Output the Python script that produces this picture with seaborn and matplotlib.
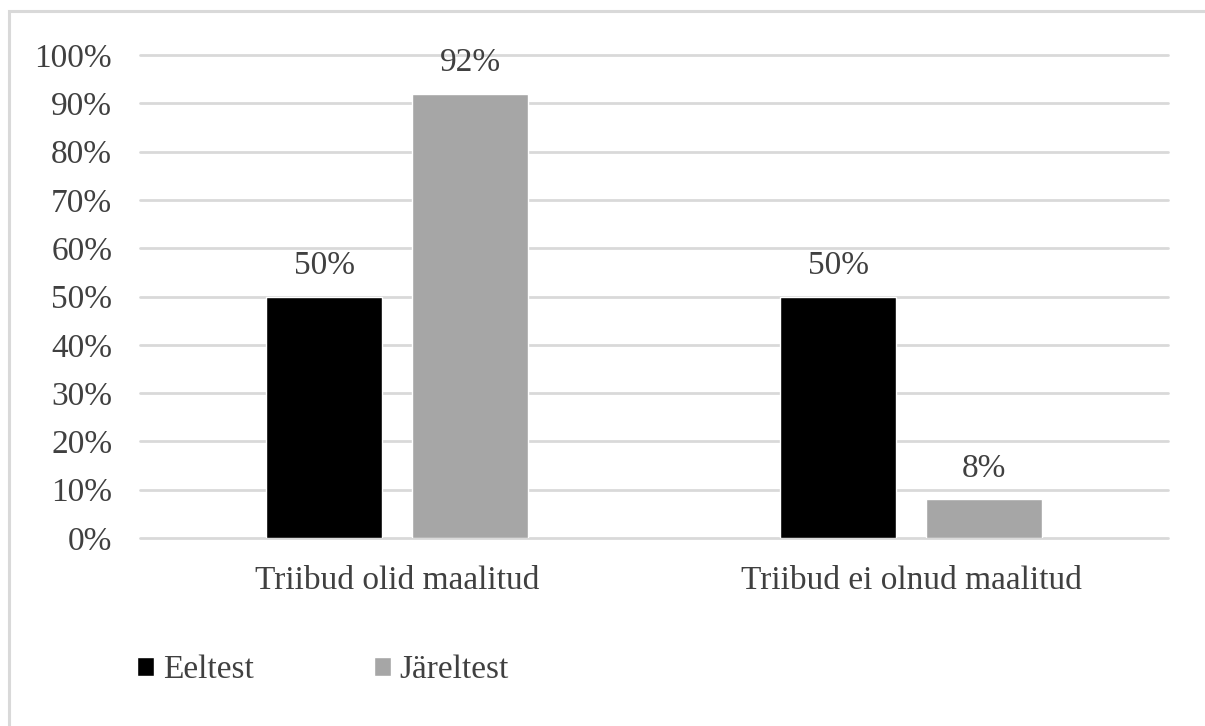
import matplotlib
matplotlib.use("Agg")
import matplotlib.pyplot as plt
import seaborn as sns
import pandas as pd
from matplotlib.patches import Rectangle

# Data
categories = ["Triibud olid maalitud", "Triibud ei olnud maalitud"]
series = ["Eeltest", "Järeltest"]
eeltest = [50, 50]
jareltest = [92, 8]
y_ticks = [0, 10, 20, 30, 40, 50, 60, 70, 80, 90, 100]

df = pd.DataFrame({
    "kategooria": categories * 2,
    "test": [series[0]] * len(categories) + [series[1]] * len(categories),
    "osakaal": eeltest + jareltest,
})

sns.set_theme(style="white")
plt.rcParams["font.family"] = ["Liberation Serif", "DejaVu Serif"]

TEXT = "#404040"
GRID = "#d9d9d9"
FS = 24

fig = plt.figure(figsize=(12.05, 7.26), dpi=100)
ax = fig.add_axes([140 / 1205, 1 - 538 / 726, (1168 - 140) / 1205, (538 - 55) / 726])

sns.barplot(
    data=df, x="kategooria", y="osakaal", hue="test",
    palette=["#000000", "#a6a6a6"], saturation=1,
    width=0.568, gap=0.2, errorbar=None, ax=ax,
)

ax.set_ylim(0, 100)
ax.set_yticks(y_ticks)
ax.set_yticklabels([f"{v}%" for v in y_ticks])
ax.set_xlabel("")
ax.set_ylabel("")
ax.tick_params(axis="both", length=0, labelsize=FS, colors=TEXT)
ax.tick_params(axis="y", pad=20)
ax.tick_params(axis="x", pad=20)
ax.yaxis.grid(True, color=GRID, linewidth=2)
ax.set_axisbelow(True)
for line in ax.get_ygridlines():
    line.set_clip_on(False)
for s in ax.spines.values():
    s.set_visible(False)

# Value labels above bars
for container in ax.containers:
    ax.bar_label(
        container,
        labels=[f"{v:g}%" for v in container.datavalues],
        padding=11, fontsize=FS, color=TEXT,
    )

# Legend below the chart
handles, labels = ax.get_legend_handles_labels()
ax.legend_.remove()
fig.legend(
    handles, labels, loc="center left",
    bbox_to_anchor=(137 / 1205, 1 - 670 / 726),
    ncol=2, frameon=False, fontsize=FS, labelcolor=TEXT,
    handlelength=0.52, handleheight=0.52, handletextpad=0.25,
    columnspacing=3.6, borderaxespad=0, borderpad=0,
)

# Light frame around the chart area
fig.add_artist(Rectangle(
    (9 / 1205, -0.05), 1.2, 1 - 11 / 726 + 0.05,
    transform=fig.transFigure, fill=False,
    edgecolor=GRID, linewidth=2.2, clip_on=False,
))

fig.savefig("out.png", dpi=100)
